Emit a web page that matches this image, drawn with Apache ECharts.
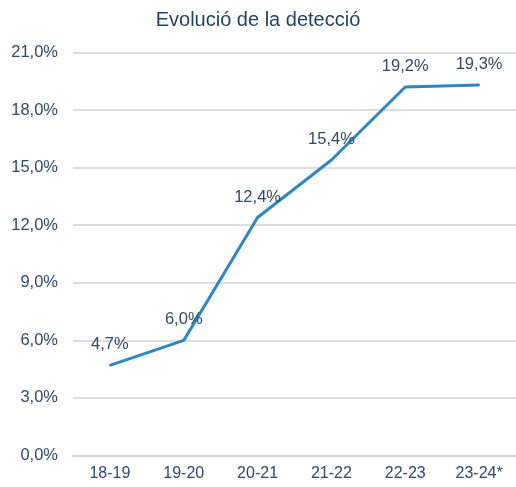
<!DOCTYPE html>
<html><head><meta charset="utf-8">
<script src="https://cdn.jsdelivr.net/npm/echarts@6/dist/echarts.min.js"></script>
<style>html,body{margin:0;padding:0;background:#fff}#c{width:516px;height:487px}</style>
</head><body><div id="c"></div>
<script>
const categories = ['18-19','19-20','20-21','21-22','22-23','23-24*'];
const values = [4.7, 6.0, 12.4, 15.4, 19.2, 19.3];
const title = 'Evolució de la detecció';
const textColor = '#2E4A6B';
const fmt = v => v.toFixed(1).replace('.', ',') + '%';
const chart = echarts.init(document.getElementById('c'), null, {renderer:'canvas'});
chart.setOption({
  animation:false,
  title:{text:title,left:'center',top:5,textStyle:{fontFamily:'Liberation Sans, Arial',fontSize:20,fontWeight:'normal',color:'#1F4468'}},
  grid:{left:73,right:0,top:52.5,bottom:31.5},
  xAxis:{type:'category',data:categories,boundaryGap:true,
    axisLine:{lineStyle:{color:'#D0D3D6',width:1.5}},axisTick:{show:false},
    axisLabel:{color:textColor,fontFamily:'Liberation Sans, Arial',fontSize:16,margin:10}},
  yAxis:{type:'value',min:0,max:21,interval:3,
    axisLine:{show:false},axisTick:{show:false},
    splitLine:{lineStyle:{color:'#D0D3D6',width:1.5}},
    axisLabel:{color:textColor,fontFamily:'Liberation Sans, Arial',fontSize:16.5,margin:15,formatter:fmt}},
  series:[{type:'line',data:values,symbol:'circle',symbolSize:2,showSymbol:true,
    itemStyle:{color:'#2D87C4'},
    lineStyle:{color:'#2D87C4',width:3},
    label:{show:true,position:'top',distance:11,color:textColor,fontFamily:'Liberation Sans, Arial',fontSize:16.5,formatter:p=>fmt(p.value)}}]
});
</script></body></html>
